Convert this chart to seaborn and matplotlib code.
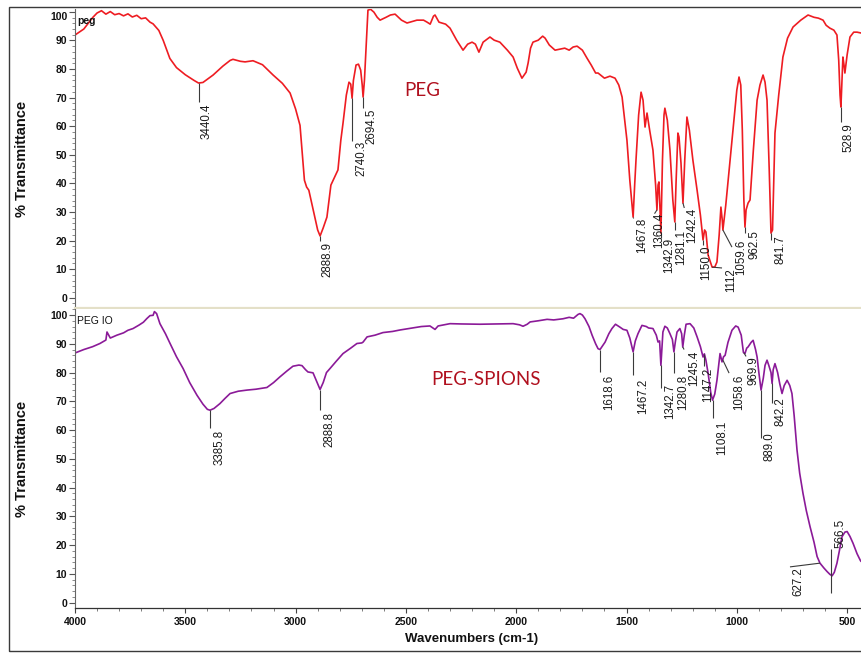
import numpy as np
import pandas as pd
import matplotlib
matplotlib.use("Agg")
import matplotlib.pyplot as plt
import seaborn as sns
from matplotlib.patches import Rectangle
from matplotlib.ticker import MultipleLocator

# ---------------- data ----------------
peg_wn = [4000, 3960, 3920, 3900, 3880, 3860, 3840, 3820, 3800, 3780, 3760, 3740, 3720, 3700,
          3680, 3660, 3646, 3620, 3600, 3570, 3540, 3500, 3460, 3440, 3420, 3374, 3330, 3297,
          3284, 3250, 3229, 3193, 3150, 3102, 3060, 3025, 3000, 2980, 2960, 2950, 2940, 2920,
          2900, 2889, 2875, 2858, 2840, 2825, 2808, 2795, 2785, 2770, 2758, 2750, 2744, 2738,
          2726, 2715, 2705, 2698, 2694, 2688, 2681, 2672, 2660, 2645, 2630, 2617, 2590, 2570,
          2549, 2520, 2495, 2450, 2420, 2404, 2390, 2375, 2368, 2350, 2320, 2300, 2270, 2241,
          2220, 2200, 2185, 2169, 2150, 2119, 2100, 2074, 2040, 2014, 1995, 1974, 1955, 1946,
          1935, 1924, 1900, 1880, 1869, 1850, 1824, 1800, 1780, 1760, 1742, 1724, 1700, 1679,
          1660, 1640, 1629, 1600, 1575, 1552, 1535, 1520, 1498, 1485, 1475, 1470, 1463, 1457,
          1445, 1434, 1425, 1416, 1407, 1395, 1380, 1368, 1362, 1357, 1353, 1348, 1344, 1337,
          1330, 1326, 1315, 1303, 1290, 1281, 1275, 1267, 1262, 1253, 1244, 1236, 1226, 1215,
          1199, 1180, 1165, 1153, 1146, 1140, 1130, 1112, 1100, 1090, 1080, 1072, 1066, 1063,
          1050, 1022, 1000, 990, 982, 975, 968, 963, 958, 949, 940, 925, 908, 895, 881, 872,
          863, 853, 845, 838, 827, 810, 791, 770, 745, 710, 677, 650, 630, 609, 595, 578, 560,
          546, 538, 532, 528, 523, 519, 514, 510, 500, 487, 470, 455, 437]
peg_t = [91.9, 94.0, 98.0, 99.6, 100.4, 99.2, 100.1, 99.0, 99.4, 98.6, 99.3, 98.2, 98.8, 97.6,
         97.9, 96.4, 95.8, 93.5, 90.0, 83.7, 80.5, 78.0, 76.0, 75.1, 75.3, 77.9, 81.0, 83.0,
         83.4, 82.7, 82.5, 82.9, 81.5, 77.9, 75.0, 71.6, 66.0, 60.3, 41.1, 38.7, 37.6, 30.7,
         23.7, 21.6, 24.4, 28.2, 39.4, 41.9, 44.7, 55.1, 61.1, 70.9, 75.4, 74.7, 69.8, 76.0,
         81.4, 81.7, 79.6, 74.4, 70.2, 76.0, 86.6, 100.6, 100.9, 99.9, 98.1, 97.1, 98.1, 98.9,
         99.2, 97.1, 96.1, 97.1, 97.1, 96.4, 95.7, 98.5, 98.9, 96.4, 95.7, 94.3, 90.1, 86.6,
         88.7, 89.4, 88.7, 85.9, 89.4, 91.2, 90.1, 89.4, 86.6, 84.2, 80.3, 76.8, 78.9, 82.1,
         87.3, 89.4, 90.1, 91.5, 90.8, 88.4, 86.6, 87.0, 87.3, 86.6, 87.7, 88.0, 86.6, 83.8,
         81.4, 78.6, 78.6, 76.8, 77.5, 76.8, 74.4, 70.2, 55.1, 41.1, 32.4, 28.2, 39.4, 48.1,
         63.9, 71.9, 69.1, 59.7, 64.6, 58.6, 51.6, 39.4, 30.7, 39.4, 40.5, 30.7, 22.6, 48.1,
         63.9, 66.3, 62.1, 51.6, 34.2, 26.5, 41.1, 57.6, 56.2, 47.1, 33.1, 48.1, 63.2, 58.6,
         48.1, 37.6, 28.9, 20.2, 23.7, 23.0, 14.9, 10.7, 10.7, 12.5, 21.9, 31.7, 27.2, 23.7,
         32.4, 55.1, 72.6, 77.2, 74.4, 58.6, 34.2, 24.7, 30.7, 33.1, 34.2, 51.6, 69.1, 74.4,
         77.9, 75.4, 69.1, 44.7, 22.6, 23.7, 57.6, 70.9, 84.2, 90.8, 94.7, 97.1, 98.9, 98.1,
         97.8, 97.1, 95.3, 94.3, 93.6, 91.9, 83.1, 70.9, 66.7, 76.0, 84.2, 81.4, 78.6, 84.9,
         91.2, 92.9, 92.9, 92.6]

spion_wn = [4000, 3960, 3920, 3887, 3860, 3855, 3840, 3810, 3780, 3760, 3737, 3710, 3690, 3674,
            3660, 3646, 3640, 3630, 3615, 3590, 3569, 3540, 3510, 3480, 3447, 3420, 3400, 3388,
            3370, 3343, 3320, 3297, 3260, 3220, 3180, 3130, 3100, 3071, 3040, 3012, 2985, 2971,
            2955, 2944, 2921, 2905, 2889, 2875, 2860, 2844, 2815, 2785, 2750, 2722, 2700, 2694,
            2676, 2640, 2604, 2560, 2527, 2480, 2430, 2391, 2368, 2354, 2300, 2250, 2164, 2100,
            2014, 1985, 1969, 1950, 1937, 1900, 1860, 1830, 1788, 1760, 1740, 1720, 1711, 1700,
            1688, 1670, 1656, 1640, 1629, 1620, 1597, 1580, 1566, 1550, 1530, 1515, 1498, 1485,
            1470, 1460, 1448, 1430, 1410, 1400, 1380, 1365, 1357, 1350, 1344, 1338, 1335, 1326,
            1315, 1303, 1292, 1285, 1278, 1271, 1258, 1250, 1245, 1238, 1230, 1212, 1195, 1180,
            1165, 1153, 1147, 1140, 1130, 1118, 1110, 1100, 1090, 1080, 1076, 1067, 1060, 1053,
            1040, 1022, 1005, 994, 980, 970, 963, 955, 949, 935, 926, 915, 908, 900, 890, 880,
            872, 863, 855, 845, 840, 835, 827, 815, 805, 795, 785, 772, 760, 750, 740, 727, 715,
            700, 685, 668, 650, 636, 623, 605, 591, 578, 568, 558, 546, 535, 523, 510, 500, 487,
            473, 455, 441, 437]
spion_t = [86.8, 88.0, 89.0, 90.1, 91.3, 94.1, 92.0, 93.0, 93.8, 94.7, 95.3, 96.5, 97.5, 98.8,
           99.8, 99.9, 101.2, 100.5, 97.0, 93.5, 90.1, 85.5, 81.4, 76.5, 72.1, 69.0, 67.2, 66.9,
           67.5, 69.2, 71.0, 72.7, 73.5, 73.9, 74.2, 74.8, 76.5, 78.5, 80.5, 82.2, 82.6, 82.4,
           81.0, 80.2, 79.9, 77.0, 74.1, 76.5, 80.0, 81.4, 84.0, 86.6, 88.5, 90.1, 90.3, 90.6,
           92.4, 93.0, 93.9, 94.3, 94.8, 95.4, 96.0, 96.2, 95.0, 96.2, 97.0, 96.9, 96.8, 96.9,
           97.0, 96.6, 96.1, 96.8, 97.6, 98.0, 98.5, 98.3, 98.7, 99.2, 98.9, 100.2, 100.5, 100.0,
           98.7, 96.0, 93.0, 90.0, 88.3, 88.0, 90.6, 93.5, 95.3, 96.8, 95.8, 95.0, 94.7, 92.0,
           87.2, 91.0, 93.5, 96.4, 96.0, 95.5, 95.3, 93.0, 90.6, 91.0, 82.5, 90.0, 94.1, 96.1,
           95.5, 93.5, 91.5, 87.2, 91.0, 94.1, 95.3, 93.5, 88.9, 93.0, 96.8, 97.0, 95.5, 92.4,
           89.0, 85.4, 86.5, 84.3, 79.7, 73.0, 70.4, 72.5, 77.3, 84.0, 86.6, 83.7, 85.5, 86.0,
           90.5, 94.7, 96.2, 95.8, 93.0, 87.0, 86.6, 88.5, 88.9, 90.5, 91.2, 88.0, 85.4, 80.0,
           73.9, 78.0, 82.5, 84.3, 82.5, 80.0, 76.2, 81.0, 83.1, 80.0, 76.0, 72.7, 75.5, 77.3,
           75.5, 72.7, 65.0, 53.0, 45.0, 38.0, 32.0, 26.4, 21.0, 16.0, 13.7, 12.0, 10.8, 9.8,
           9.3, 10.5, 13.7, 18.0, 22.9, 24.5, 24.7, 23.0, 20.6, 17.0, 14.8, 14.3]

x_ticks = [4000, 3500, 3000, 2500, 2000, 1500, 1000, 500]
y_ticks = [0, 10, 20, 30, 40, 50, 60, 70, 80, 90, 100]

# peak labels: (text, curve x, line end x, line end y, text x, text top y, line start y or None)
peg_peaks = [
    ("3440.4", 3438, 3438, 68.4, 3432, 67.9, None),
    ("2888.9", 2889, 2889, 19.8, 2883, 19.6, None),
    ("2740.3", 2744, 2744, 54.8, 2731, 54.9, None),
    ("2694.5", 2694, 2694, 66.3, 2685, 66.2, None),
    ("1467.8", 1470, 1470, 27.9, 1454, 27.9, None),
    ("1360.4", 1362, 1373, 29.4, 1380, 29.7, None),
    ("1342.9", 1344, 1344, 20.8, 1335, 20.8, None),
    ("1281.1", 1281, 1281, 23.7, 1279, 23.7, None),
    ("1242.4", 1244, 1238, 31.4, 1228, 31.4, None),
    ("1150.0", 1153, 1153, 18.4, 1167, 18.2, None),
    ("1112", 1112, 1067, 10.4, 1053, 10.4, None),
    ("1059.6", 1063, 1022, 17.7, 1008, 20.2, None),
    ("962.5", 963, 963, 22.6, 949, 23.6, None),
    ("841.7", 845, 845, 20.2, 827, 21.8, None),
    ("528.9", 528, 528, 61.4, 519, 61.1, None),
]
spion_peaks = [
    ("3385.8", 3388, 3388, 60.7, 3374, 59.9, None),
    ("2888.8", 2889, 2889, 66.9, 2876, 66.2, None),
    ("1618.6", 1620, 1620, 80.1, 1607, 79.1, None),
    ("1467.2", 1470, 1470, 79.1, 1452, 78.0, None),
    ("1342.7", 1344, 1344, 74.6, 1330, 76.2, None),
    ("1280.8", 1285, 1285, 79.8, 1271, 79.1, None),
    ("1245.4", 1245, 1239, 88.0, 1221, 87.7, None),
    ("1147.2", 1147, 1147, 82.2, 1158, 81.8, None),
    ("1108.1", 1110, 1110, 64.1, 1094, 63.4, None),
    ("1058.6", 1064, 1035, 79.8, 1017, 79.1, None),
    ("969.9", 968, 958, 85.6, 953, 85.8, None),
    ("889.0", 890, 890, 57.2, 877, 59.3, None),
    ("842.2", 840, 840, 69.3, 827, 71.4, None),
    ("627.2", 623, 759, 12.4, 750, 12.4, None),
    ("566.5", 573, 573, 3.4, 555, 29.1, 18.7),
]

peg_df = pd.DataFrame({"wn": peg_wn, "T": peg_t})
spion_df = pd.DataFrame({"wn": spion_wn, "T": spion_t})

# ---------------- styling ----------------
sns.set_theme(style="white")
plt.rcParams["font.family"] = ["Liberation Sans", "DejaVu Sans"]

W_PX, H_PX = 861, 654
fig = plt.figure(figsize=(W_PX / 100, H_PX / 100), dpi=100)
fig.patch.set_facecolor("white")
L = 75 / W_PX
AW = 1 - L
AH = 299 / H_PX
ax1 = fig.add_axes([L, 1 - 308 / H_PX, AW, AH])
ax2 = fig.add_axes([L, 1 - 608 / H_PX, AW, AH])

RED = "#EE1C22"
PURPLE = "#8B1A98"
LABEL_RED = "#B0101E"

sns.lineplot(data=peg_df, x="wn", y="T", ax=ax1, color=RED, lw=1.2,
             estimator=None, sort=False)
sns.lineplot(data=spion_df, x="wn", y="T", ax=ax2, color=PURPLE, lw=1.2,
             estimator=None, sort=False)

ax1.set_ylim(-3.6, 101)
ax2.set_ylim(-1.9, 102.1)
for ax in (ax1, ax2):
    ax.set_xlim(4000, 437)
    ax.set_yticks(y_ticks)
    ax.yaxis.set_minor_locator(MultipleLocator(2))
    ax.tick_params(axis="y", which="major", direction="out", length=4, width=0.8,
                   color="#555555", labelsize=7.5, pad=1.5, left=True, labelcolor="#111111")
    ax.tick_params(axis="y", which="minor", direction="out", length=2, width=0.6,
                   color="#777777", left=True)
    for s in ("top", "right"):
        ax.spines[s].set_visible(False)
    ax.spines["left"].set_color("#666666")
    ax.spines["left"].set_linewidth(0.8)
    ax.set_ylabel("% Transmittance", fontsize=10.5, fontweight="bold", color="#111111")
    ax.yaxis.set_label_coords(-0.058, 0.5)
    for t in ax.get_yticklabels():
        t.set_fontweight("bold")

# top panel: no x ticks, light divider as bottom spine
ax1.set_xticks([])
ax1.set_xlabel("")
ax1.spines["bottom"].set_color("#E4E0C8")
ax1.spines["bottom"].set_linewidth(1.6)
for t in ax1.get_yticklabels():
    if t.get_text() == "100":
        t.set_va("top")

# bottom panel x axis
ax2.set_xticks(x_ticks)
ax2.set_xticklabels([str(v) for v in x_ticks])
ax2.xaxis.set_minor_locator(MultipleLocator(100))
ax2.tick_params(axis="x", which="major", direction="out", length=3.5, width=0.8,
                color="#444444", labelsize=7.5, pad=3, bottom=True, labelcolor="#111111")
ax2.tick_params(axis="x", which="minor", direction="out", length=2, width=0.6,
                color="#666666", bottom=True)
for t in ax2.get_xticklabels():
    t.set_fontweight("bold")
ax2.spines["bottom"].set_color("#333333")
ax2.spines["bottom"].set_linewidth(0.9)
ax2.set_xlabel("Wavenumbers (cm-1)", fontsize=9.5, fontweight="bold", color="#111111")
ax2.xaxis.set_label_coords(0.505, -0.082)
ax2.xaxis.label.set_va("top")


def annotate(ax, peaks, wn, tv):
    xs = np.asarray(wn)[::-1]
    ys = np.asarray(tv)[::-1]
    for lab, cx, lx, ly, tx, ty, y0 in peaks:
        cy = float(np.interp(cx, xs, ys)) if y0 is None else y0
        ax.plot([cx, lx], [cy, ly], color="#3a3a3a", lw=0.8, solid_capstyle="butt")
        ax.text(tx, ty, lab, rotation=90, ha="left", va="top", fontsize=8.3,
                color="#1a1a1a")


annotate(ax1, peg_peaks, peg_wn, peg_t)
annotate(ax2, spion_peaks, spion_wn, spion_t)

# sample names
ax1.text(3991, 96.7, "peg", fontsize=7.5, fontweight="bold", ha="left", va="center",
         color="#111111")
ax2.text(3991, 98.0, "PEG IO", fontsize=7.5, ha="left", va="center", color="#111111")
ax1.text(2427, 72.6, "PEG", fontsize=13.5, ha="center", va="center", color=LABEL_RED,
         family=["Lato", "DejaVu Sans"])
ax2.text(2137, 77.5, "PEG-SPIONS", fontsize=13.5, ha="center", va="center", color=LABEL_RED,
         family=["Lato", "DejaVu Sans"])

# outer frame of the picture
fig.add_artist(Rectangle((9 / W_PX, 3 / H_PX), 2.0, 644 / H_PX, transform=fig.transFigure,
                         fill=False, lw=1.0, ec="#3a3a3a", clip_on=False))

fig.savefig("out.png", dpi=100)
